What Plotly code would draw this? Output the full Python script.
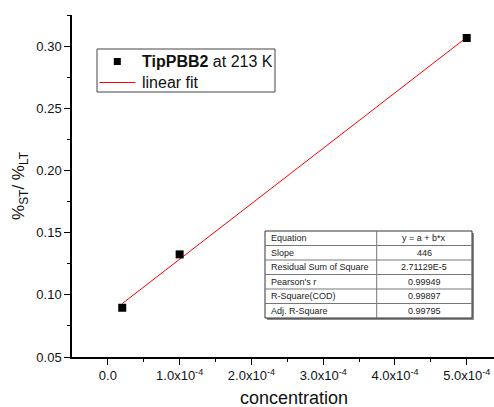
import numpy as np
import plotly.graph_objects as go

# measured data
concentration = [2.0e-5, 1.0e-4, 5.0e-4]
ratio = [0.0896, 0.1325, 0.3065]

# linear fit parameters (y = a + b*x)
fit_slope = 446.0
fit_intercept = float(np.mean(ratio) - fit_slope * np.mean(concentration))
fit_x = [min(concentration), max(concentration)]
fit_y = [fit_intercept + fit_slope * x for x in fit_x]

# fit statistics table
stat_names = ["Equation", "Slope", "Residual Sum of Square", "Pearson's r",
              "R-Square(COD)", "Adj. R-Square"]
stat_values = ["y = a + b*x", "446", "2.71129E-5", "0.99949", "0.99897", "0.99795"]

x_tickvals = [0.0, 1e-4, 2e-4, 3e-4, 4e-4, 5e-4]
x_ticktext = ["0.0", "1.0x10<sup>-4</sup>", "2.0x10<sup>-4</sup>", "3.0x10<sup>-4</sup>",
              "4.0x10<sup>-4</sup>", "5.0x10<sup>-4</sup>"]
y_tickvals = [0.05, 0.10, 0.15, 0.20, 0.25, 0.30]
y_ticktext = ["0.05", "0.10", "0.15", "0.20", "0.25", "0.30"]

FONT = "Arial, Liberation Sans, sans-serif"

W, H = 494, 407
ML, MR, MT, MB = 72, 0, 15, 50
PW, PH = W - ML - MR, H - MT - MB


def px(x):
    """pixel column -> paper x"""
    return (x - ML) / PW


def py(y):
    """pixel row -> paper y"""
    return 1 - (y - MT) / PH


fig = go.Figure()

fig.add_trace(go.Scatter(
    x=fit_x, y=fit_y, mode="lines", name="linear fit",
    line=dict(color="#ff0000", width=1),
))
fig.add_trace(go.Scatter(
    x=concentration, y=ratio, mode="markers",
    name="<b>TipPBB2</b> at 213 K",
    marker=dict(symbol="square", size=8, color="black"),
))

shapes = []
annotations = []

# ---- legend box ----
lg_l, lg_r, lg_t, lg_b = 97, 275, 49, 92
shapes.append(dict(type="rect", xref="paper", yref="paper",
                   x0=px(lg_l), x1=px(lg_r), y0=py(lg_b), y1=py(lg_t),
                   line=dict(color="#444444", width=1), fillcolor="white"))
row1, row2 = 61.5, 82.5
shapes.append(dict(type="rect", xref="paper", yref="paper",
                   x0=px(113.8), x1=px(120.8), y0=py(row1 + 3.5), y1=py(row1 - 3.5),
                   line=dict(width=0), fillcolor="black"))
shapes.append(dict(type="line", xref="paper", yref="paper",
                   x0=px(99.5), x1=px(135.5), y0=py(row2), y1=py(row2),
                   line=dict(color="#ff0000", width=1)))
annotations.append(dict(xref="paper", yref="paper", x=px(139.5), y=py(row1),
                        xanchor="left", yanchor="middle", showarrow=False,
                        text="<b>TipPBB2</b> at 213 K",
                        font=dict(family=FONT, size=16, color="#111111")))
annotations.append(dict(xref="paper", yref="paper", x=px(139.5), y=py(row2),
                        xanchor="left", yanchor="middle", showarrow=False,
                        text="linear fit",
                        font=dict(family=FONT, size=16, color="#111111")))

# ---- x-axis title ----
annotations.append(dict(xref="paper", yref="paper", x=px(294), y=py(398),
                        xanchor="center", yanchor="middle", showarrow=False,
                        text="concentration",
                        font=dict(family=FONT, size=18, color="#111111")))

# ---- statistics table ----
t_l, t_r, t_t, t_mid = 265, 472, 231, 376.7
row_h = 14.5
t_b = t_t + row_h * len(stat_names)
# drop shadow
shapes.append(dict(type="rect", xref="paper", yref="paper",
                   x0=px(t_l + 2), x1=px(t_r + 2), y0=py(t_b + 2), y1=py(t_t + 2),
                   line=dict(width=0), fillcolor="#8a8a8a"))
shapes.append(dict(type="rect", xref="paper", yref="paper",
                   x0=px(t_l), x1=px(t_r), y0=py(t_b), y1=py(t_t),
                   line=dict(color="#333333", width=1), fillcolor="white"))
shapes.append(dict(type="line", xref="paper", yref="paper",
                   x0=px(t_mid), x1=px(t_mid), y0=py(t_b), y1=py(t_t),
                   line=dict(color="#777777", width=1)))
for i in range(1, len(stat_names)):
    yy = t_t + row_h * i
    shapes.append(dict(type="line", xref="paper", yref="paper",
                       x0=px(t_l), x1=px(t_r), y0=py(yy), y1=py(yy),
                       line=dict(color="#777777", width=1)))
for i, (name, val) in enumerate(zip(stat_names, stat_values)):
    yc = t_t + row_h * (i + 0.5)
    annotations.append(dict(xref="paper", yref="paper", x=px(t_l + 4), y=py(yc),
                            xanchor="left", yanchor="middle", showarrow=False,
                            text=name, font=dict(family=FONT, size=9, color="#222222")))
    annotations.append(dict(xref="paper", yref="paper", x=px((t_mid + t_r) / 2), y=py(yc),
                            xanchor="center", yanchor="middle", showarrow=False,
                            text=val, font=dict(family=FONT, size=9, color="#222222")))

fig.update_layout(
    width=W, height=H,
    margin=dict(l=ML, r=MR, t=MT, b=MB),
    paper_bgcolor="white", plot_bgcolor="white",
    font=dict(family=FONT, color="#111111"),
    showlegend=False,
    shapes=shapes,
    annotations=annotations,
    xaxis=dict(
        range=[-0.5e-4, 5.38e-4],
        tickvals=x_tickvals, ticktext=x_ticktext,
        ticks="outside", ticklen=6, tickwidth=1.2, tickcolor="black",
        minor=dict(tickvals=[0.5e-4, 1.5e-4, 2.5e-4, 3.5e-4, 4.5e-4],
                   ticks="outside", ticklen=3, tickwidth=1.2, tickcolor="black"),
        showline=True, linecolor="black", linewidth=1.5,
        showgrid=False, zeroline=False,
        tickfont=dict(size=13),
    ),
    yaxis=dict(
        range=[0.05, 0.325],
        tickvals=y_tickvals, ticktext=y_ticktext,
        ticks="outside", ticklen=6, tickwidth=1.2, tickcolor="black",
        minor=dict(tickvals=[0.075, 0.125, 0.175, 0.225, 0.275, 0.325],
                   ticks="outside", ticklen=3, tickwidth=1.2, tickcolor="black"),
        showline=True, linecolor="black", linewidth=1.5,
        showgrid=False, zeroline=False,
        tickfont=dict(size=13),
        title=dict(text="%<sub>ST</sub>/ %<sub>LT</sub>", font=dict(size=17), standoff=7),
    ),
)

fig.write_html("out.html")
